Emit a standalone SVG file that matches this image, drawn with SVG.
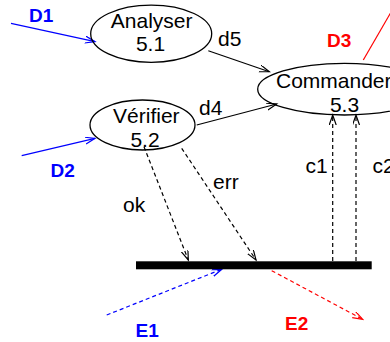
<svg xmlns="http://www.w3.org/2000/svg" width="390" height="342" viewBox="0 0 390 342">
<style>
text{font-family:"Liberation Sans",Arial,Helvetica,sans-serif;font-size:21px;fill:#000}
.big{font-weight:bold;font-size:19px}
.blue{fill:#0000ff}
.red{fill:#ff0000}
.node ellipse{fill:none;stroke:#000;stroke-width:1.3}
.c{fill:none;stroke-width:1.2}
.k{stroke:#000}
.b{stroke:#0000ff}
.r{stroke:#ff0000}
.dash{stroke-dasharray:4 3}
</style>
<defs>
<marker id="ak" markerUnits="userSpaceOnUse" markerWidth="12" markerHeight="9" refX="10" refY="3.5" orient="auto"><path d="M0,0 L10,3.5 L0,7" fill="none" stroke="#000" stroke-width="1.2"/></marker>
<marker id="ab" markerUnits="userSpaceOnUse" markerWidth="12" markerHeight="9" refX="10" refY="3.5" orient="auto"><path d="M0,0 L10,3.5 L0,7" fill="none" stroke="#0000ff" stroke-width="1.2"/></marker>
<marker id="ar" markerUnits="userSpaceOnUse" markerWidth="12" markerHeight="9" refX="10" refY="3.5" orient="auto"><path d="M0,0 L10,3.5 L0,7" fill="none" stroke="#ff0000" stroke-width="1.2"/></marker>
</defs>
<g id="connectors">
<line class="c b" x1="11" y1="23.3" x2="95" y2="41.7" marker-end="url(#ab)"/>
<line class="c b" x1="21.7" y1="155.7" x2="95" y2="138.3" marker-end="url(#ab)"/>
<line class="c r" x1="363.3" y1="60" x2="398" y2="0" marker-end="url(#ar)"/>
<line class="c k" x1="208.3" y1="50.7" x2="269.3" y2="71.7" marker-end="url(#ak)"/>
<line class="c k" x1="196.7" y1="125" x2="276.7" y2="104" marker-end="url(#ak)"/>
<line class="c k dash" x1="144" y1="146.7" x2="188.3" y2="260" marker-end="url(#ak)"/>
<line class="c k dash" x1="181.7" y1="148.3" x2="256" y2="260" marker-end="url(#ak)"/>
<line class="c k dash" x1="332.7" y1="261" x2="332.7" y2="115" marker-end="url(#ak)"/>
<line class="c k dash" x1="356" y1="261" x2="356" y2="115" marker-end="url(#ak)"/>
<line class="c b dash" x1="106.7" y1="315" x2="221.7" y2="269.3" marker-end="url(#ab)"/>
<line class="c r dash" x1="271.7" y1="270.7" x2="362.7" y2="319.3" marker-end="url(#ar)"/>
</g>
<g id="store"><rect x="136" y="261.3" width="235.7" height="8" fill="#000"/></g>
<g id="analyser" class="node">
<ellipse cx="151.2" cy="33.7" rx="60.5" ry="28.6"/>
<text x="151.7" y="28.3" text-anchor="middle">Analyser</text>
<text x="150.5" y="50.7" text-anchor="middle">5.1</text>
</g>
<g id="verifier" class="node">
<ellipse cx="142.5" cy="125" rx="52.5" ry="25"/>
<text x="146.3" y="123.3" text-anchor="middle">Vérifier</text>
<text x="145" y="146.7" text-anchor="middle">5.2</text>
</g>
<g id="commander" class="node">
<ellipse cx="344.4" cy="89.2" rx="86.7" ry="25.8"/>
<text x="276" y="88.3">Commander</text>
<text x="344.5" y="111.7" text-anchor="middle">5.3</text>
</g>
<g id="labels">
<text class="big blue" x="29" y="21.7">D1</text>
<text class="big blue" x="50.5" y="177.3">D2</text>
<text class="big red" x="327" y="46.7">D3</text>
<text class="big blue" x="135.5" y="336.7">E1</text>
<text class="big red" x="285" y="330">E2</text>
<text x="218" y="46">d5</text>
<text x="199" y="115">d4</text>
<text x="123" y="211.7">ok</text>
<text x="213" y="189">err</text>
<text x="305.5" y="173.3">c1</text>
<text x="372.5" y="173.3">c2</text>
</g>
</svg>
